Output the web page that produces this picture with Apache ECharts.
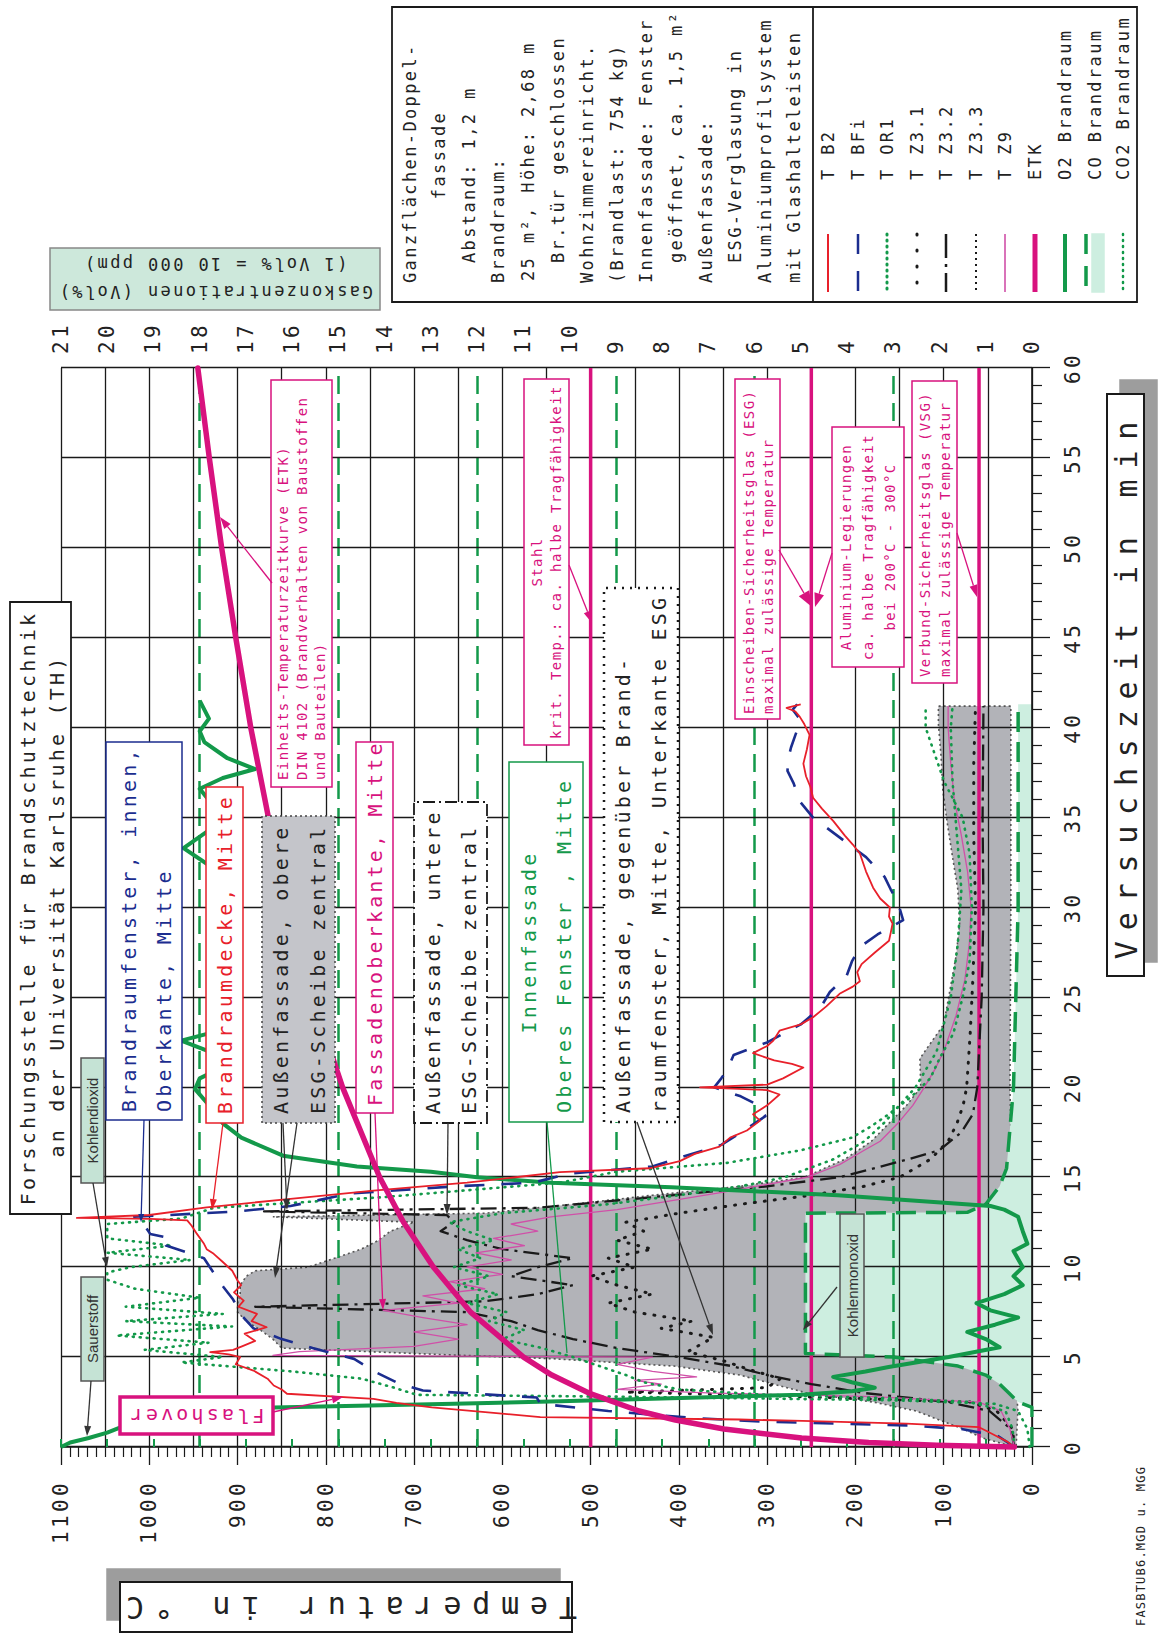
<!DOCTYPE html>
<html><head><meta charset="utf-8">
<script src="https://cdn.jsdelivr.net/npm/echarts/dist/echarts.min.js"></script>
<style>
html,body{margin:0;padding:0;background:#fff;width:1159px;height:1634px;overflow:hidden;}
#wrap{position:absolute;left:0;top:0;width:1634px;height:1159px;transform-origin:0 0;transform:translateY(1634px) rotate(-90deg);}
</style></head><body><div id="wrap"></div>
<script>
// ---------- DATA (time in min, temperature in °C, gas in Vol%) ----------
const timeTicks = [0,5,10,15,20,25,30,35,40,45,50,55,60];
const limitTemps = [500, 250, 60]; // Stahl, ESG, VSG
const B2 = [[0,20],[0.3,28],[0.6,40],[0.9,52],[1.1,60],[1.3,142],[1.45,260],[1.53,331],[1.66,557],[1.9,610],[2.2,680],[2.45,720],[2.68,746],[2.96,844],[3.2,850],[3.42,859],[3.8,866],[4.25,882],[4.6,902],[5.0,897],[5.15,910],[5.27,931],[5.4,905],[5.6,895],[5.9,880],[6.3,892],[6.66,867],[7.0,884],[7.4,878],[7.8,899],[8.14,893],[8.6,904],[9.0,896],[9.26,900],[9.8,906],[10.3,917],[10.74,927],[11.0,935],[11.3,938],[11.85,946],[12.3,952],[12.6,957],[12.68,999],[12.74,1082],[12.9,1000],[13.33,935],[13.8,840],[14.26,746],[14.7,640],[15.0,585],[15.28,535],[15.5,433],[15.9,399],[16.3,382],[16.7,354],[17.2,342],[17.6,323],[18.15,308],[18.5,316],[19.0,300],[19.6,286],[19.85,300],[20.0,376],[20.15,300],[20.5,282],[21.1,259],[21.3,272],[21.5,292],[21.9,316],[22.3,300],[22.6,293],[23.15,286],[23.5,262],[23.9,248],[24.5,233],[25.2,218],[25.6,203],[25.9,195],[26.4,198],[26.85,193],[27.5,178],[28.15,162],[28.6,160],[29.1,158],[29.5,162],[30.0,161],[30.5,172],[31.1,180],[32.0,188],[33.0,195],[33.5,203],[34.0,212],[34.8,225],[35.5,238],[36.1,248],[36.7,251],[37.3,256],[38.0,259],[38.8,255],[39.6,252],[40.2,258],[40.6,263],[40.9,268],[41.1,278],[41.3,262]];
const BFi = [[0,20],[0.6,38],[1.0,80],[1.2,140],[1.4,300],[1.6,380],[2.0,480],[2.4,557],[2.75,561],[3.14,690],[3.55,718],[4.2,745],[4.9,768],[5.5,815],[6.0,850],[6.6,882],[7.3,895],[8.2,905],[8.9,916],[9.6,926],[10.5,938],[11.2,981],[11.6,975],[11.85,999],[12.3,1005],[12.6,1008],[12.8,1017],[13.1,900],[13.4,840],[14.1,772],[14.5,652],[14.7,565],[15.2,525],[15.6,430],[16.0,405],[16.8,352],[17.6,326],[18.4,302],[19.0,310],[19.5,330],[20.0,360],[20.5,352],[21.0,345],[21.8,338],[22.5,300],[23.5,262],[24.4,240],[25.3,229],[26.2,210],[27.0,204],[27.8,195],[28.5,175],[29.3,146],[30.3,152],[31.0,160],[31.7,167],[32.8,188],[33.9,218],[35.0,248],[35.9,263],[36.9,270],[37.6,277],[38.3,276],[38.9,273],[39.6,268],[40.4,262],[41.0,271],[41.3,266]];
const OR1 = [[0,20],[1,22],[2,30],[2.5,70],[2.7,150],[2.9,300],[3.2,400],[3.6,440],[4.0,460],[4.5,490],[5.0,520],[5.5,555],[6.0,600],[6.5,575],[7.0,615],[7.5,595],[8.0,640],[8.5,605],[9.0,650],[9.5,615],[10.0,655],[10.5,625],[11.0,650],[11.5,610],[12.0,640],[12.5,660],[13.0,600],[13.5,480],[14.0,400],[14.5,330],[15.0,280],[16.0,225],[17.0,190],[18.0,168],[19.0,150],[20.0,132],[22.0,108],[25.0,92],[28.0,84],[31.0,80],[34.0,85],[37.0,90],[40.0,92],[41.2,90]];
const Z31 = [[0,20],[1,22],[2,40],[2.5,70],[2.9,330],[3.05,460],[3.3,300],[3.8,285],[4.3,320],[4.8,350],[5.3,390],[6.1,361],[6.6,420],[7.0,385],[7.5,450],[8.0,480],[8.5,430],[9.0,470],[9.5,500],[10.0,450],[10.5,480],[11.0,430],[11.5,470],[12.0,440],[12.5,460],[13.0,400],[13.5,330],[14.0,250],[14.5,190],[15.0,150],[16.0,115],[17.0,95],[18.0,85],[19.0,78],[20.0,74],[23.0,70],[26.0,67],[30.0,64],[34.0,66],[38.0,66],[41.2,64]];
const Z32 = [[0,20],[1,24],[2,48],[2.5,95],[3.0,190],[3.5,250],[4.0,300],[4.5,340],[5.0,400],[5.5,470],[6.0,520],[6.5,560],[7.0,590],[7.5,640],[7.8,880],[8.1,620],[8.5,560],[9.0,520],[9.5,590],[10.0,560],[10.5,520],[11.0,600],[11.5,640],[12.0,670],[12.5,655],[12.9,663],[13.1,870],[13.3,560],[13.8,450],[14.5,300],[15.0,218],[16.0,140],[16.5,105],[17.5,80],[18.5,67],[20.0,62],[25.0,57],[30.0,55],[35.0,56],[41.2,55]];
const Z33_high = [[0,20],[0.5,56],[1,78],[1.5,105],[2,131],[2.5,180],[3,255],[3.5,293],[4,331],[4.5,406],[4.9,540],[5.2,700],[5.5,850],[6,860],[6.5,874],[7,890],[7.5,900],[8,900],[8.5,897],[9,897],[9.5,890],[9.8,880],[10,820],[10.5,790],[11,760],[11.5,740],[12,727],[12.5,700],[12.8,860],[13.0,620],[13.5,520],[14,430],[14.5,330],[15,258],[16,212],[17,182],[18,162],[19,142],[20,126],[21.6,127],[23.5,100],[25.4,93],[27.3,86],[29.1,82],[31,84],[32.8,90],[34.7,96],[36.5,101],[38.4,103],[40.2,106],[41.2,106]];
const Z33_low = [[0,18],[2,16],[5,20],[13,22],[20,25],[30,24],[41.2,24]];
const Z9 = [[0,20],[1,25],[2,35],[2.5,60],[2.8,180],[3.0,360],[3.2,470],[3.5,420],[3.7,450],[3.9,380],[4.2,430],[4.6,470],[5.0,430],[5.1,860],[5.3,830],[5.6,700],[6.0,650],[6.4,700],[6.8,640],[7.2,690],[7.6,735],[8.0,650],[8.4,690],[8.8,620],[9.2,660],[9.6,600],[10.0,640],[10.4,590],[10.8,630],[11.2,575],[11.6,610],[12.0,560],[12.4,590],[12.8,545],[13.2,470],[13.6,420],[14.2,346],[15.0,255],[15.7,218],[16.5,190],[17.0,172],[18.0,152],[19.0,135],[20.0,122],[21.0,110],[22.0,100],[24.0,86],[26.0,76],[28.0,71],[30.0,69],[32.0,73],[34.0,80],[36.0,88],[38.0,92],[40.0,95],[41.2,95]];
const ETK = [[0,20],[0.1,108],[0.25,185],[0.5,261],[1,349],[1.5,404],[2,445],[3,502],[4,544],[5,576],[7.5,636],[10,678],[12.5,712],[15,739],[20,781],[25,815],[30,842],[35,865],[40,885],[45,902],[50,918],[55,932],[60,945]];
const O2 = [[0,21.0],[0.25,20.8],[0.5,20.4],[0.8,20.0],[1.1,19.7],[1.6,19.4],[2.0,19.0],[2.2,16.4],[2.4,12.5],[2.55,10.2],[2.7,8.0],[2.9,5.0],[3.1,3.9],[3.3,3.4],[3.6,3.9],[3.9,4.3],[4.2,3.6],[4.45,3.1],[5.0,1.8],[5.55,0.7],[6.0,1.0],[6.4,1.4],[6.8,0.8],[7.2,0.3],[7.6,0.9],[8.0,1.2],[8.5,0.6],[9.0,0.2],[9.5,0.4],[10.0,0.2],[10.9,0.4],[11.3,0.1],[12.0,0.2],[12.8,0.3],[13.2,0.6],[13.4,0.9],[14.0,4.2],[14.45,7.8],[14.7,10.4],[15.0,12.0],[15.3,13.0],[15.6,14.6],[16.2,16.2],[17.2,17.1],[18.0,17.5],[19.0,17.8],[19.9,18.1],[20.5,18.0],[21.0,17.6],[22.0,17.8],[22.6,18.4],[23.0,17.8],[24.0,17.5],[26.0,17.4],[28.0,17.6],[30.0,17.5],[32.0,17.6],[33.3,18.35],[34.2,17.85],[35.0,17.5],[36.6,18.0],[37.2,17.5],[37.7,16.8],[38.3,17.4],[39.2,17.9],[39.8,18.0],[40.5,17.8],[41.5,18.0]];
const CO = [[0,0],[2.2,0],[2.5,0.3],[3.0,0.5],[3.5,0.7],[4.0,1.0],[4.5,1.6],[5.0,3.0],[5.2,4.9],[8.0,4.9],[13.0,4.9],[13.05,1.4],[13.5,1.0],[14.5,0.7],[15.5,0.55],[17,0.5],[20,0.4],[25,0.35],[30,0.3],[35,0.3],[41.3,0.3]];
const CO2 = [[0,0.05],[1,0.1],[2,0.3],[2.4,0.8],[2.6,3],[2.8,9],[2.9,13.3],[3.3,13.8],[3.8,14.5],[4.2,16],[4.7,18.4],[5.0,17.5],[5.4,19.2],[5.8,17.8],[6.2,19.8],[6.7,17.3],[7.0,19.6],[7.4,17.5],[7.8,19.6],[8.3,18.0],[8.8,19.4],[9.3,20.0],[9.7,20.0],[10.0,19.5],[10.4,18.2],[10.8,20.0],[11.2,18.6],[11.6,20.0],[12.0,20.0],[12.4,20.0],[12.7,18.4],[13.3,17.7],[13.9,14.0],[14.7,10.2],[15.3,9.0],[15.8,6.6],[16.5,5.0],[17.2,3.9],[17.8,3.5],[18.5,3.1],[19.5,2.6],[20.5,2.2],[21.6,2.0],[23,1.7],[25,1.5],[27,1.35],[30,1.3],[33,1.35],[35,1.5],[37,1.9],[38.5,2.1],[40,2.3],[41.2,2.3]];

// ---------- STYLE ----------
const MONO = "'DejaVu Sans Mono', 'Liberation Mono', monospace";
const SANS = "'Liberation Sans', Arial, sans-serif";
const RED='#e8202a', BLUE='#1b2d8f', GREEN='#13994a', MAG='#d8127e', PINK='#d050a8', BLK='#1a1a1a', MINT='#cdeee0';
const W = 1634, H = 1159;

const gfx = [];
function P(x,y){ return [W - y, x]; }
function box(x0,y0,x1,y1,stroke,o){ o=o||{};
  gfx.push({type:'rect', silent:true, z:o.z||100, shape:{x:W-y1, y:x0, width:y1-y0, height:x1-x0},
    style:{fill:o.fill||'#fff', stroke:stroke, lineWidth:o.lw||1.5, lineDash:o.dash||null}});
}
function txt(s,x,y,o){ o=o||{};
  const p=P(x,y), al=o.align||'left';
  gfx.push({type:'text', silent:true, z:o.z||102, x:p[0], y:p[1], rotation:o.rot||0,
    style:{text:s, fill:o.color||'#222', font:(o.size||20)+'px '+(o.family||MONO),
      align:al, textAlign:al, verticalAlign:'middle', textVerticalAlign:'middle'}});
}
function seg(x1,y1,x2,y2,color,lw,dash,cap){
  const a=P(x1,y1), b=P(x2,y2);
  gfx.push({type:'line', silent:true, z:101, shape:{x1:a[0],y1:a[1],x2:b[0],y2:b[1]},
    style:{stroke:color,lineWidth:lw||1.3,lineDash:dash||null,lineCap:cap||'butt'}});
}
function arrow(x1,y1,x2,y2,color,head,hw){
  head=head||11; hw=hw||3.5;
  const a=P(x1,y1), b=P(x2,y2);
  const dx=b[0]-a[0], dy=b[1]-a[1], L=Math.hypot(dx,dy), ux=dx/L, uy=dy/L;
  const bx=b[0]-ux*head, by=b[1]-uy*head;
  gfx.push({type:'line', silent:true, z:101, shape:{x1:a[0],y1:a[1],x2:bx,y2:by}, style:{stroke:color,lineWidth:1.3}});
  gfx.push({type:'polygon', silent:true, z:101, shape:{points:[[b[0],b[1]],[bx-uy*hw,by+ux*hw],[bx+uy*hw,by-ux*hw]]}, style:{fill:color}});
}
const UP = Math.PI/2; // upside-down text in final picture

// Title
box(10,602,71,1214,BLK,{lw:1.8});
txt('Forschungsstelle für Brandschutztechnik',28,908,{align:'center'});
txt('an der Universität Karlsruhe (TH)',57,906,{align:'center'});
// Brandraumfenster
box(106,742,182,1120,BLUE);
txt('Brandraumfenster, innen,',129,1112,{color:BLUE});
txt('Oberkante, Mitte',164,1112,{color:BLUE});
arrow(144,1120,141,1222,BLUE,8,3);
// Brandraumdecke
box(206,787,243,1123,RED);
txt('Brandraumdecke, Mitte',225,1114,{color:RED});
arrow(223,1123,212,1210,RED);
// obere ESG
box(262,816,335,1123,'#444',{fill:'#c4c5ca',dash:[2,3],lw:1.5});
txt('Außenfassade, obere',281,1114);
txt('ESG-Scheibe zentral',318,1114);
arrow(283,1123,287,1210,'#333');
arrow(297,1123,275,1278,'#333');
// Fassadenoberkante
box(356,742,393,1113,MAG);
txt('Fassadenoberkante, Mitte',375,1106,{color:MAG});
arrow(375,1113,383,1310,MAG);
// untere ESG
box(414,802,487,1123,BLK,{dash:[12,4,2,4],lw:1.8});
txt('Außenfassade, untere',433,1114);
txt('ESG-Scheibe zentral',469,1114);
arrow(448,1123,447,1215,'#333');
// Innenfassade
box(509,762,583,1122,GREEN);
txt('Innenfassade',529,942,{color:GREEN,align:'center'});
txt('Oberes Fenster , Mitte',564,1113,{color:GREEN});
seg(547,1122,567,1353,GREEN,1.3);
// gegenüber
box(604,588,678,1122,BLK,{dash:[2,6],lw:2.5});
txt('Außenfassade, gegenüber Brand-',623,1113);
txt('raumfenster, Mitte, Unterkante ESG',659,1113);
arrow(637,1122,713,1335,'#333');
// ETK box
box(271,380,332,787,MAG);
txt('Einheits-Temperaturzeitkurve (ETK)',283,780,{color:MAG,size:14});
txt('DIN 4102 (Brandverhalten von Baustoffen',302,780,{color:MAG,size:14});
txt('und Bauteilen)',320,780,{color:MAG,size:14});
arrow(272,583,220,517,MAG,12,4);
// Stahl
box(524,379,569,745,MAG);
txt('Stahl',537,562,{color:MAG,size:14,align:'center'});
txt('krit. Temp.: ca. halbe Tragfähigkeit',556,739,{color:MAG,size:14});
arrow(569,565,592,623,MAG,12,4);
// ESG
box(735,379,780,719,MAG);
txt('Einscheiben-Sicherheitsglas (ESG)',749,714,{color:MAG,size:14});
txt('maximal zulässige Temperatur',768,714,{color:MAG,size:14});
arrow(779,550,812,607,MAG,16,6);
// Alu
box(832,427,904,667,MAG);
txt('Aluminium-Legierungen',846,547,{color:MAG,size:14,align:'center'});
txt('ca. halbe Tragfähigkeit',868,547,{color:MAG,size:14,align:'center'});
txt('bei 200°C - 300°C',890,547,{color:MAG,size:14,align:'center'});
arrow(832,553,815,607,MAG,14,5);
// VSG
box(912,381,957,683,MAG);
txt('Verbund-Sicherheitsglas (VSG)',925,677,{color:MAG,size:14});
txt('maximal zulässige Temperatur',945,677,{color:MAG,size:14});
arrow(957,533,977,597,MAG,12,4);
// small gas labels
box(81,1058,104,1183,'#555',{fill:'#c5e3d5',lw:1.5});
txt('Kohlendioxid',92.5,1120.5,{family:SANS,size:15,color:'#333',align:'center'});
arrow(93,1183,107,1267,'#333',10,3.5);
box(81,1277,104,1381,'#555',{fill:'#c5e3d5',lw:1.5});
txt('Sauerstoff',92.5,1329,{family:SANS,size:15,color:'#333',align:'center'});
arrow(91,1381,87,1436,'#333',10,3.5);
box(840,1214,864,1357,'#555',{fill:'#c5e3d5',lw:1.5});
txt('Kohlenmonoxid',852,1285.5,{family:SANS,size:15,color:'#333',align:'center'});
arrow(837,1287,803,1330,'#333',10,3.5);
// Flashover
box(120,1397,273,1434,MAG,{lw:3.5});
txt('Flashover',196,1415.5,{color:MAG,size:20,align:'center',rot:UP});
arrow(273,1412,343,1397,MAG,11,4);
// Gas axis title
box(50,248,380,310,'#888',{fill:'#cde8db',lw:1.5});
txt('Gaskonzentrationen (Vol%)',215,292,{size:17,align:'center',rot:UP});
txt('(1 Vol% = 10 000 ppm)',215,264,{size:17,align:'center',rot:UP});
// Temperature axis title
box(107,1569,560,1620,'#9d9d9d',{fill:'#9d9d9d',lw:0,z:99});
box(120,1582,572,1632,BLK,{lw:2});
txt('Temperatur in °C',346,1607,{size:30,align:'center',rot:UP});
// Time axis title
box(1120,380,1157,962,'#9d9d9d',{fill:'#9d9d9d',lw:0,z:99});
box(1107,394,1144,976,BLK,{lw:2});
txt('Versuchszeit in min',1126,685,{size:30,align:'center'});
// file name
txt('FASBTUB6.MGD u. MGG',1141,1626,{size:12});
// Legend box
box(392,7,1137,302,BLK,{lw:1.8});
seg(813,7,813,302,BLK,1.8);
const descLines = [['Ganzflächen-Doppel-',283,'left'],['fassade',155,'center'],['Abstand: 1,2 m',263,'left'],['Brandraum:',283,'left'],['25 m², Höhe: 2,68 m',281,'left'],['Br.tür geschlossen',263,'left'],['Wohnzimmereinricht.',283,'left'],['(Brandlast: 754 kg)',283,'left'],['Innenfassade: Fenster',283,'left'],['geöffnet, ca. 1,5 m²',263,'left'],['Außenfassade:',283,'left'],['ESG-Verglasung in',263,'left'],['Aluminiumprofilsystem',283,'left'],['mit Glashalteleisten',283,'left']];
descLines.forEach((d,i)=>txt(d[0],409.6+i*29.6,d[1],{size:17,align:d[2]}));
const legendNames = ['T B2','T BFi','T OR1','T Z3.1','T Z3.2','T Z3.3','T Z9','ETK','O2 Brandraum','CO Brandraum','CO2 Brandraum'];
const legX = [828,858,887,917,946,976,1005,1035,1065,1095,1123];
legendNames.forEach((n,i)=>txt(n,legX[i],180,{size:17}));
const s0 = 234, s1 = 292;
seg(828,s0,828,s1,RED,2);
seg(858,s0,858,s1,BLUE,2.5,[20,17]);
seg(887,s0,887,s1,GREEN,3,[1,5],'round');
seg(917,s0,917,s1,BLK,3,[1,15],'round');
seg(946,s0,946,s1,BLK,2.5,[24,6,3,6]);
seg(976,s0,976,s1,BLK,2,[2,4]);
seg(1005,s0,1005,s1,PINK,1.6);
seg(1035,s0,1035,s1,MAG,5);
seg(1065,s0,1065,s1,GREEN,4);
box(1092,s0,1104,s1,MINT,{fill:MINT,lw:0});
seg(1086,s0,1086,s1,GREEN,3.5,[20,12]);
seg(1123,s0,1123,s1,GREEN,2.5,[1,5],'round');

// ---------- CHART ----------
const chart = echarts.init(document.getElementById('wrap'), null, {renderer:'svg', width:W, height:H});
const lbl = {fontFamily:MONO, fontSize:21, color:'#222', formatter:(v)=>String(v)};
function ln(name,data,color,width,type,yIdx,cap,z){
  return {type:'line', name, data, yAxisIndex:yIdx||0, showSymbol:false, symbol:'none', silent:true, z:z||3,
    lineStyle:{color, width, type:type||'solid', cap:cap||'butt', join:'round'}};
}
const gridGreen = 'rgba(0,0,0,0)';
const option = {
  animation:false, backgroundColor:'#fff',
  grid:{left:187,right:368,top:61,bottom:127,containLabel:false},
  xAxis:{type:'value',min:0,max:60,interval:5,z:1,
    axisLine:{show:true,onZero:false,lineStyle:{color:BLK,width:1.6}},
    axisTick:{show:true,length:18,lineStyle:{color:BLK,width:1.3}},
    minorTick:{show:true,splitNumber:5,length:10,lineStyle:{color:BLK,width:1.2}},
    splitLine:{show:true,lineStyle:{color:BLK,width:1.3}},
    axisLabel:Object.assign({margin:30,showMinLabel:true,showMaxLabel:true},lbl)},
  yAxis:[
    {type:'value',min:0,max:1100,interval:100,position:'left',z:1,
     axisLine:{show:true,onZero:false,lineStyle:{color:BLK,width:1.6}},
     axisTick:{show:true,length:18,lineStyle:{color:BLK,width:1.3}},
     minorTick:{show:true,splitNumber:10,length:10,lineStyle:{color:BLK,width:1.2}},
     splitLine:{show:false},
     axisLabel:Object.assign({margin:33,showMinLabel:true,showMaxLabel:true},lbl)},
    {type:'value',min:0,max:21,interval:1,position:'right',z:1,
     axisLine:{show:false},
     axisTick:{show:true,length:8,lineStyle:{color:GREEN,width:2}},
     splitLine:{show:false},
     axisLabel:Object.assign({margin:14,showMinLabel:true,showMaxLabel:true},lbl)},
    {type:'value',min:0,max:1100,interval:50,position:'left',z:1,
     axisLine:{show:false},axisTick:{show:false},axisLabel:{show:false},
     splitLine:{show:true,lineStyle:{color:BLK,width:1.3}}},
    {type:'value',min:0,max:21,interval:3,position:'right',z:1,
     axisLine:{show:false},axisTick:{show:false},axisLabel:{show:false},
     splitLine:{show:true,lineStyle:{color:[gridGreen,GREEN,GREEN,GREEN,GREEN,GREEN,GREEN,gridGreen],width:2.5,type:[18,9]}}}
  ],
  series:[
    {type:'custom', name:'T Z3.3', z:0, silent:true, yAxisIndex:0, clip:false, data:[[0,0]],
     renderItem:(params, api)=>{
       const pts=[];
       Z33_high.forEach(d=>pts.push(api.coord(d)));
       Z33_low.slice().reverse().forEach(d=>pts.push(api.coord(d)));
       return {type:'polygon', shape:{points:pts}, style:{fill:'#b2b3b8', stroke:'#555', lineWidth:1.6, lineDash:[2,3]}};
     }},
    {type:'line', name:'CO fill', data:CO, yAxisIndex:1, showSymbol:false, symbol:'none', silent:true, z:0,
     lineStyle:{width:0}, areaStyle:{color:MINT, opacity:1}},
    ...limitTemps.map(v=>ln('limit '+v,[[0,v],[60,v]],MAG,3.5)),
    ln('T Z3.2',Z32,BLK,2.3,[16,6,3,6]),
    ln('T Z3.1',Z31,BLK,3,[1,9],0,'round'),
    ln('T Z9',Z9,PINK,1.3),
    ln('T OR1',OR1,GREEN,2.6,[1,6],0,'round'),
    ln('CO2 Brandraum',CO2,GREEN,2.6,[1,6],1,'round'),
    ln('CO Brandraum',CO,GREEN,3.5,[20,10],1),
    ln('O2 Brandraum',O2,GREEN,4,'solid',1),
    ln('T BFi',BFi,BLUE,2.6,[20,17]),
    ln('T B2',B2,RED,1.8),
    ln('ETK',ETK,MAG,5.5,'solid',0,'round',4)
  ],
  graphic:{elements:gfx}
};
chart.setOption(option);
function spacing(){
  document.querySelectorAll('#wrap svg text').forEach(t=>{
    const cs=getComputedStyle(t);
    if(!/Mono/i.test(cs.fontFamily)) return;
    const fs=parseFloat(cs.fontSize);
    const k = fs>=28?0.36:(fs<16?0.1:(fs<19?0.14:0.16));
    t.style.letterSpacing=(fs*k).toFixed(2)+'px';
  });
}
try{ chart.getZr().refreshImmediately(); }catch(e){}
spacing();
chart.on('finished', spacing);
setTimeout(spacing, 50);
</script></body></html>
